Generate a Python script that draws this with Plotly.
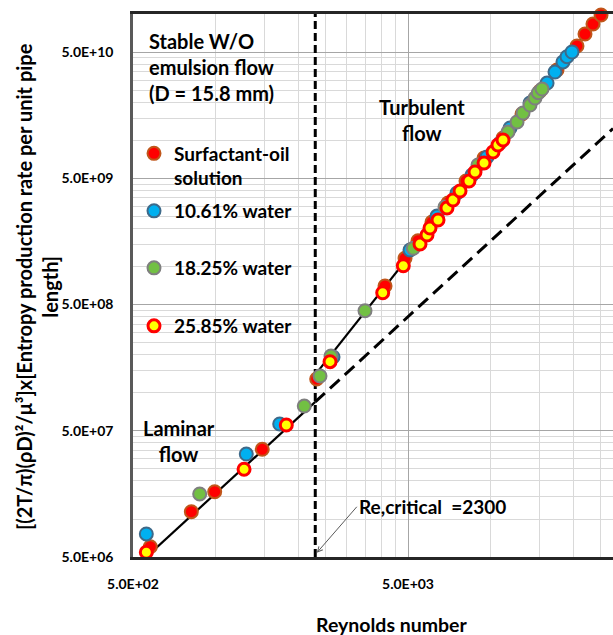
import math
import plotly.graph_objects as go

# Reynolds number and dimensionless entropy production rate per unit pipe length
oil_re = [578, 815, 991, 1476, 2328, 4125, 4877, 5438, 6114, 6989, 8126, 9450,
          11080, 12990, 15100, 17410, 20580, 22010, 23530, 25170]
oil_s = [6.03e6, 1.142e7, 1.645e7, 3.565e7, 1.285e8, 7.01e8, 1.161e9, 1.60e9,
         2.25e9, 3.18e9, 4.76e9, 7.23e9, 1.042e10, 1.614e10, 2.455e10, 3.60e10,
         5.58e10, 6.94e10, 8.33e10, 9.82e10]

w10_re = [559, 1291, 1708, 2669, 5085, 6375, 7535, 8547, 9690, 11750, 13890,
          16020, 17120, 18300, 18930, 19740]
w10_s = [7.61e6, 3.27e7, 5.655e7, 1.92e8, 1.351e9, 2.51e9, 3.82e9, 5.30e9,
         7.37e9, 1.25e10, 1.972e10, 2.84e10, 3.47e10, 4.17e10, 4.59e10, 5.0e10]

w18_re = [874, 2098, 2393, 2624, 3488, 5228, 6815, 8985, 10800, 11550, 12460,
          13100, 13890, 14480, 14890, 15360]
w18_s = [1.578e7, 7.85e7, 1.357e8, 1.954e8, 4.467e8, 1.393e9, 2.96e9, 6.37e9,
         9.51e9, 1.161e10, 1.395e10, 1.644e10, 1.90e10, 2.16e10, 2.38e10, 2.547e10]

w26_re = [559, 1267, 1805, 2603, 4046, 4807, 5529, 5862, 6012, 6429, 6930, 7288,
          7729, 8333, 8762, 9450, 10190, 10620, 11080]
w26_s = [5.45e6, 2.476e7, 5.55e7, 1.762e8, 6.20e8, 1.014e9, 1.507e9, 1.776e9,
         2.018e9, 2.335e9, 2.904e9, 3.363e9, 3.963e9, 4.753e9, 5.60e9, 6.60e9,
         8.07e9, 9.17e9, 1.005e10]

# Theory: laminar (16 Re^2) up to Re = 2300, Blasius turbulent beyond
laminar_re = [500, 2300]
laminar_s = [4.0e6, 8.464e7]
turbulent_re = [2300, 27830]
turbulent_s = [1.393e8, 1.318e11]
laminar_ext_re = [2300, 27830]
laminar_ext_s = [8.464e7, 1.239e10]
re_critical = 2300

x_ticks = [500, 5000]
x_ticktext = ["5.0E+02", "5.0E+03"]
y_ticks = [5e6, 5e7, 5e8, 5e9, 5e10]
y_ticktext = ["5.0E+06", "5.0E+07", "5.0E+08", "5.0E+09", "5.0E+10"]

x_minor = [m * k for m in x_ticks for k in range(2, 10)]
y_minor = [m * k for m in y_ticks for k in range(2, 10)]

W, H = 613, 635
L, R, T, B = 133, 0, 14, 78
PW, PH = W - L - R, H - T - B

X_RANGE = [math.log10(500), math.log10(500) + 480 / 275]
Y_RANGE = [math.log10(5e6), 11.0]


def px(xp):
    return (xp - L) / PW


def py(yp):
    return (H - B - yp) / PH


FONT = "Lato, 'Open Sans', sans-serif"

fig = go.Figure()

# theory lines
fig.add_trace(go.Scatter(
    x=laminar_re + [None] + turbulent_re,
    y=laminar_s + [None] + turbulent_s,
    mode="lines", line=dict(color="black", width=2.2),
    connectgaps=False, showlegend=False, hoverinfo="skip"))
fig.add_trace(go.Scatter(
    x=laminar_ext_re, y=laminar_ext_s, mode="lines",
    line=dict(color="black", width=3, dash="13px,7px"),
    showlegend=False, hoverinfo="skip"))
fig.add_trace(go.Scatter(
    x=[re_critical, re_critical], y=[5e6, 1e11], mode="lines",
    line=dict(color="black", width=3, dash="8px,4px"),
    showlegend=False, hoverinfo="skip", cliponaxis=False))

series = [
    ("Surfactant-oil<br>solution", oil_re, oil_s, "#FF0000", "#C0561A", 13, 2, "legend"),
    ("10.61% water", w10_re, w10_s, "#00B0F0", "#3E6A8A", 13, 2, "legend2"),
    ("18.25% water", w18_re, w18_s, "#72C043", "#7F7F7F", 13, 2, "legend3"),
    ("25.85% water", w26_re, w26_s, "#FFFF00", "#FF0000", 12, 3, "legend4"),
]
for name, xs, ys, fill, edge, size, lw, lg in series:
    fig.add_trace(go.Scatter(
        x=xs, y=ys, mode="markers", name=name, legend=lg, cliponaxis=False,
        marker=dict(color=fill, size=size, line=dict(color=edge, width=lw))))

legend_common = dict(
    xanchor="left", yanchor="middle", bgcolor="rgba(0,0,0,0)",
    font=dict(family=FONT, size=19, color="black", weight="bold"),
    valign="top", itemclick=False, itemdoubleclick=False,
)
fig.update_layout(
    legend=dict(x=px(134), y=py(166), **legend_common),
    legend2=dict(x=px(134), y=py(211), **legend_common),
    legend3=dict(x=px(134), y=py(268), **legend_common),
    legend4=dict(x=px(134), y=py(326), **legend_common),
)

annotations = [
    dict(text="Stable W/O<br>emulsion flow<br>(D = 15.8 mm)", x=px(147), y=py(67),
         xanchor="left", yanchor="middle", align="left", size=20),
    dict(text="Turbulent<br>flow", x=px(422), y=py(120),
         xanchor="center", yanchor="middle", align="center", size=20),
    dict(text="Laminar<br>flow", x=px(179), y=py(441.5),
         xanchor="center", yanchor="middle", align="center", size=20),
    dict(text="Reynolds number", x=px(392), y=py(624),
         xanchor="center", yanchor="middle", size=19.5),
    dict(text="[(2T/π)(ρD)²/μ³]x[Entropy production rate per unit pipe<br>length]",
         x=px(37), y=py(287), xanchor="center", yanchor="middle", align="center",
         textangle=-90, size=20),
]
for a in annotations:
    size = a.pop("size")
    a.update(xref="paper", yref="paper", showarrow=False,
             font=dict(family=FONT, size=size, color="black", weight="bold"))
    fig.add_annotation(**a)

fig.add_annotation(
    text="Re,critical  =2300", xref="x", yref="y",
    x=math.log10(2330), y=math.log10(5.4e6),
    ax=40, ay=-46, axref="pixel", ayref="pixel",
    xanchor="left", yanchor="middle",
    showarrow=True, arrowhead=5, arrowsize=1, arrowwidth=1, arrowcolor="#595959",
    standoff=0, startstandoff=0,
    font=dict(family=FONT, size=19, color="black", weight="bold"))

tick_font = dict(family=FONT, size=14, color="black", weight="bold")
fig.update_xaxes(
    type="log", range=X_RANGE, tickmode="array", tickvals=x_ticks, ticktext=x_ticktext,
    tickfont=tick_font, ticks="", ticklabelstandoff=12,
    showgrid=True, gridcolor="#A6A6A6", gridwidth=1,
    minor=dict(tickmode="array", tickvals=x_minor, showgrid=True,
               gridcolor="#D9D9D9", gridwidth=1, ticks=""),
    showline=True, linecolor="#262626", linewidth=2.5, mirror=True, zeroline=False)
fig.update_yaxes(
    type="log", range=Y_RANGE, tickmode="array", tickvals=y_ticks, ticktext=y_ticktext,
    tickfont=tick_font, ticks="", ticklabelstandoff=14,
    showgrid=True, gridcolor="#A6A6A6", gridwidth=1,
    minor=dict(tickmode="array", tickvals=y_minor, showgrid=True,
               gridcolor="#D9D9D9", gridwidth=1, ticks=""),
    showline=True, linecolor="#595959", linewidth=2.5, mirror=False, zeroline=False)

fig.update_layout(
    width=W, height=H, autosize=False,
    margin=dict(l=L, r=R, t=T, b=B, pad=0),
    paper_bgcolor="white", plot_bgcolor="white",
    font=dict(family=FONT, color="black"),
    hovermode=False,
)

fig.write_html("out.html", config={"displayModeBar": False})
